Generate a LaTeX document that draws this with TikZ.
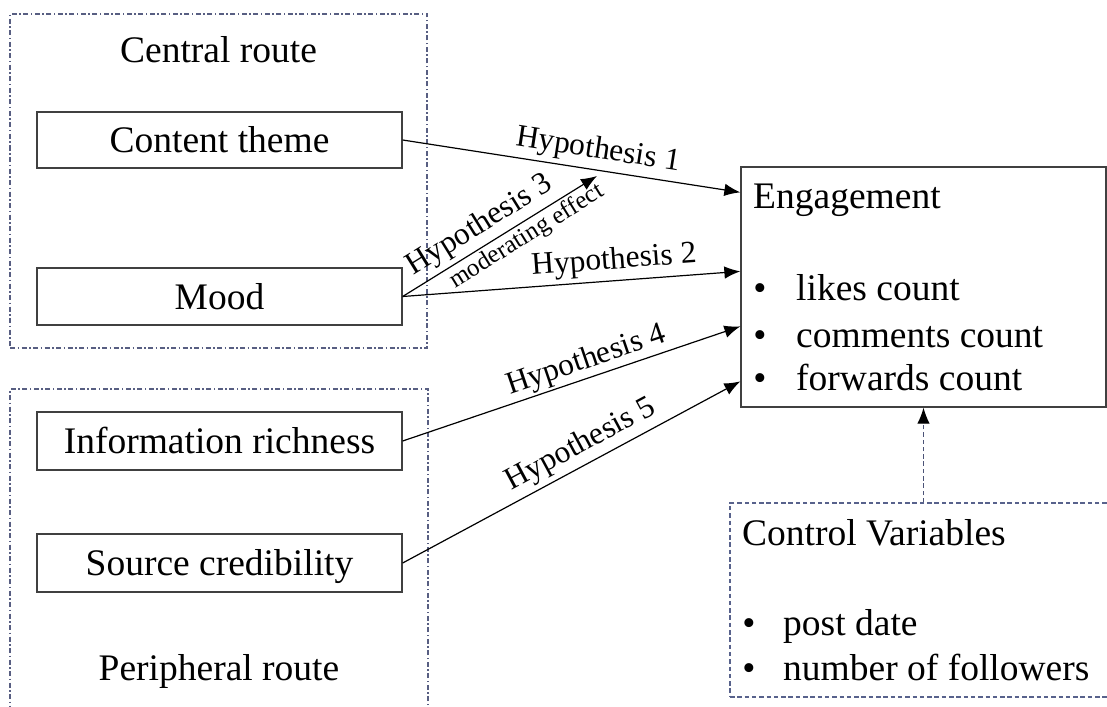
\documentclass[tikz,border=0pt]{standalone}
\usepackage{fontspec}
\setmainfont{Liberation Serif}
\usetikzlibrary{arrows.meta,calc}
\definecolor{routecol}{RGB}{88,94,130}
\definecolor{ctrlcol}{RGB}{88,98,140}
\begin{document}
\begin{tikzpicture}[x=1pt,y=-1pt,
  big/.style={font=\fontsize{37.5pt}{45pt}\selectfont},
  hyp/.style={font=\fontsize{31.5pt}{37pt}\selectfont, sloped, above, inner sep=4.5pt},
  modlab/.style={font=\fontsize{25pt}{30pt}\selectfont, sloped, below, inner sep=2.5pt},
  varbox/.style={draw=black!75, line width=1.3pt, minimum width=365pt, minimum height=57pt,
     big, text height=25.5pt, text depth=0pt, inner sep=0pt},
  routebox/.style={draw=routecol, line width=1.2pt, dash pattern=on 5pt off 2.5pt on 1.5pt off 2.5pt, inner sep=0pt},
  ctrlframe/.style={draw=ctrlcol, line width=1.2pt, dash pattern=on 4.5pt off 2.8pt, inner sep=0pt},
  arr/.style={line width=1.2pt, -{Latex[length=16pt,width=12.5pt]}},
  txt/.style={big, inner sep=0pt, anchor=base west},
  bul/.style={big, inner sep=0pt, anchor=base}
]
\useasboundingbox (0,0) rectangle (1107,706);
\clip (0,0) rectangle (1107,706);

% route frames
\node[routebox, minimum width=417pt, minimum height=334pt] (central) at (218.5,181) {};
\node[routebox, minimum width=418pt, minimum height=331pt] (peripheral) at (219,554.5) {};
\node[big, inner sep=0pt, anchor=base] (centrallab) at (218.5,63) {Central route};
\node[big, inner sep=0pt, anchor=base] (periphlab) at (219,680) {Peripheral route};

% variable boxes
\node[varbox, minimum height=56pt] (ct) at (219.5,140) {Content theme};
\node[varbox] (mood) at (219.5,296.5) {Mood};
\node[varbox, minimum height=58pt] (info) at (219.5,441) {Information richness};
\node[varbox, minimum height=58pt] (src) at (219.5,563) {Source credibility};

% engagement box
\node[draw=black!75, line width=1.3pt, minimum width=365pt, minimum height=240pt, inner sep=0pt] (eng) at (923.5,287) {};
\node[txt] (engt) at (753,208) {Engagement};
\node[bul] (b1) at (760,300) {\textbullet};
\node[txt] (l1) at (796,300) {likes count};
\node[bul] (b2) at (760,347) {\textbullet};
\node[txt] (l2) at (796,347) {comments count};
\node[bul] (b3) at (760,390) {\textbullet};
\node[txt] (l3) at (796,390) {forwards count};

% control variables box
\node[ctrlframe, minimum width=387pt, minimum height=194pt] (ctrl) at (923.5,600) {};
\node[txt] (ctrlt) at (742,545) {Control Variables};
\node[bul] (c1) at (749,635) {\textbullet};
\node[txt] (cl1) at (783,635) {post date};
\node[bul] (c2) at (749,680) {\textbullet};
\node[txt] (cl2) at (783,680) {number of followers};

% connectors
\coordinate (e1) at ($(eng.north west)+(0,26)$);
\coordinate (e2) at ($(eng.north west)+(0,105)$);
\coordinate (e4) at ($(eng.north west)+(0,160)$);
\coordinate (e5) at ($(eng.north west)+(0,215)$);
\coordinate (m3) at (597,176);

\draw[arr] (ct.east) -- node[hyp, pos=0.57] {Hypothesis 1} (e1);
\draw[arr] (mood.east) -- node[hyp, pos=0.63] {Hypothesis 2} (e2);
\draw[arr] (mood.east) -- node[hyp, pos=0.45] {Hypothesis 3}
   node[modlab, pos=0.60] {moderating effect} (m3);
\draw[arr] (info.east) -- node[hyp, pos=0.56, inner sep=2pt] {Hypothesis 4} (e4);
\draw[arr] (src.east) -- node[hyp, pos=0.555] {Hypothesis 5} (e5);

\draw[line width=1.2pt, draw=ctrlcol!85!black, dash pattern=on 4.5pt off 2.8pt, -{Latex[length=16pt,width=12.5pt,black]}]
  (ctrl.north -| eng.south) -- (eng.south);
\end{tikzpicture}
\end{document}
